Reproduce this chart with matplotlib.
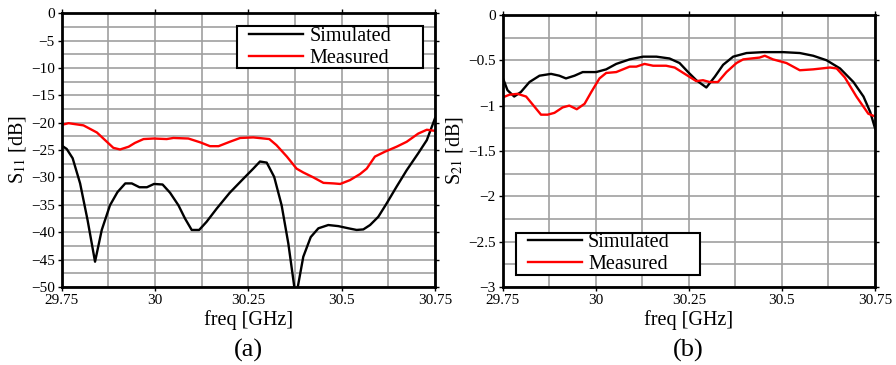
import matplotlib
matplotlib.use("Agg")
import matplotlib.pyplot as plt
from matplotlib.patches import Rectangle
from matplotlib.ticker import MultipleLocator, FuncFormatter

plt.rcParams['font.family'] = ['Liberation Serif', 'DejaVu Serif']
plt.rcParams['mathtext.fontset'] = 'stix'

# S11 (a)
s11_sim_f = [29.75, 29.763, 29.779, 29.799, 29.819, 29.839, 29.857, 29.879, 29.899, 29.92,
             29.9375, 29.958, 29.978, 29.997, 30.02, 30.04, 30.0625, 30.08, 30.098, 30.118,
             30.138, 30.165, 30.2, 30.237, 30.263, 30.281, 30.299, 30.319, 30.339, 30.357,
             30.377, 30.397, 30.417, 30.4375, 30.464, 30.491, 30.518, 30.54, 30.558, 30.576,
             30.598, 30.62, 30.647, 30.674, 30.705, 30.728, 30.75]
s11_sim = [-24.2, -24.8, -26.5, -31.1, -37.8, -45.4, -39.6, -35.1, -32.7, -31.1,
           -31.1, -31.8, -31.8, -31.2, -31.3, -32.8, -35.1, -37.5, -39.6, -39.6,
           -38.1, -35.7, -32.8, -30.2, -28.4, -27.1, -27.3, -29.9, -35.1, -42.1,
           -52.0, -44.5, -40.9, -39.3, -38.7, -38.9, -39.3, -39.6, -39.5, -38.7,
           -37.2, -34.8, -31.7, -28.7, -25.6, -23.2, -19.2]
s11_meas_f = [29.75, 29.768, 29.808, 29.844, 29.866, 29.888, 29.906, 29.929, 29.946, 29.969,
              29.996, 30.031, 30.049, 30.089, 30.121, 30.147, 30.17, 30.2, 30.228, 30.263,
              30.306, 30.325, 30.353, 30.379, 30.397, 30.424, 30.451, 30.478, 30.496, 30.522,
              30.549, 30.567, 30.589, 30.616, 30.647, 30.674, 30.705, 30.728, 30.75]
s11_meas = [-20.4, -20.1, -20.5, -21.8, -23.2, -24.6, -24.9, -24.4, -23.7, -23.0,
            -22.9, -23.0, -22.8, -22.9, -23.6, -24.3, -24.3, -23.5, -22.8, -22.7,
            -23.0, -24.1, -26.2, -28.4, -29.1, -30.0, -31.0, -31.1, -31.2, -30.5,
            -29.4, -28.4, -26.2, -25.3, -24.4, -23.5, -22.0, -21.3, -21.5]

# S21 (b)
s21_sim_f = [29.75, 29.763, 29.781, 29.799, 29.822, 29.849, 29.88, 29.902, 29.92, 29.943,
             29.965, 30.001, 30.028, 30.055, 30.091, 30.127, 30.163, 30.198, 30.225, 30.248,
             30.27, 30.297, 30.32, 30.342, 30.369, 30.405, 30.45, 30.503, 30.548, 30.584,
             30.62, 30.656, 30.692, 30.719, 30.737, 30.75]
s21_sim = [-0.69, -0.83, -0.90, -0.85, -0.74, -0.67, -0.65, -0.67, -0.70, -0.67,
           -0.63, -0.63, -0.60, -0.54, -0.49, -0.46, -0.46, -0.48, -0.53, -0.63,
           -0.72, -0.80, -0.68, -0.55, -0.46, -0.42, -0.41, -0.41, -0.42, -0.45,
           -0.50, -0.59, -0.74, -0.90, -1.07, -1.25]
s21_meas_f = [29.75, 29.768, 29.79, 29.813, 29.831, 29.853, 29.871, 29.889, 29.911, 29.929,
              29.949, 29.97, 29.988, 30.01, 30.028, 30.055, 30.091, 30.109, 30.131, 30.154,
              30.189, 30.212, 30.243, 30.27, 30.288, 30.306, 30.328, 30.351, 30.378, 30.396,
              30.418, 30.44, 30.454, 30.476, 30.512, 30.548, 30.584, 30.629, 30.647, 30.669,
              30.7, 30.732, 30.75]
s21_meas = [-0.91, -0.88, -0.87, -0.90, -0.99, -1.10, -1.10, -1.08, -1.02, -1.00,
            -1.04, -0.98, -0.85, -0.70, -0.64, -0.63, -0.57, -0.57, -0.54, -0.56,
            -0.56, -0.58, -0.66, -0.73, -0.72, -0.74, -0.74, -0.63, -0.53, -0.49,
            -0.48, -0.47, -0.45, -0.49, -0.53, -0.61, -0.60, -0.58, -0.59, -0.69,
            -0.90, -1.09, -1.12]

xticks = [29.75, 30, 30.25, 30.5, 30.75]
xticklabels = ["29.75", "30", "30.25", "30.5", "30.75"]

fig = plt.figure(figsize=(8.96, 3.65), dpi=100)
ax1 = fig.add_axes([0.069, 0.214, 0.4165, 0.750])
ax2 = fig.add_axes([0.561, 0.214, 0.4156, 0.745])


def minus(v, pos):
    return ("%g" % v).replace("-", "\u2212")


def style(ax, ylim, ymaj, ymin):
    ax.set_xlim(29.75, 30.75)
    ax.set_ylim(*ylim)
    ax.set_xticks(xticks)
    ax.set_xticklabels(xticklabels)
    ax.xaxis.set_minor_locator(MultipleLocator(0.125))
    ax.yaxis.set_major_locator(MultipleLocator(ymaj))
    ax.yaxis.set_minor_locator(MultipleLocator(ymin))
    ax.yaxis.set_major_formatter(FuncFormatter(minus))
    ax.grid(True, which='both', color='#a0a0a0', linewidth=1.2)
    ax.set_axisbelow(True)
    for sp in ax.spines.values():
        sp.set_linewidth(2)
    ax.tick_params(which='both', direction='out', top=True, right=True,
                   length=3, width=1, labelsize=11, pad=2)
    ax.tick_params(which='minor', length=0)
    ax.set_xlabel("freq [GHz]", fontsize=14.5, labelpad=2)


def legend(ax, box):
    # box: x0, y0, x1, y1 in axes coords; the frame is drawn by hand
    x0, y0, x1, y1 = box
    ax.add_patch(Rectangle((x0, y0), x1 - x0, y1 - y0, transform=ax.transAxes,
                           facecolor='white', edgecolor='black', lw=1.5, zorder=5))
    ax.legend(loc='center left', bbox_to_anchor=(x0 + 0.032, (y0 + y1) / 2),
              fontsize=14.5, frameon=False, borderpad=0, labelspacing=0.15,
              handlelength=2.7, handletextpad=0.3, borderaxespad=0).set_zorder(6)


ax1.plot(s11_sim_f, s11_sim, color='black', lw=1.7, label='Simulated')
ax1.plot(s11_meas_f, s11_meas, color='red', lw=1.7, label='Measured')
style(ax1, (-50, 0), 5, 2.5)
ax1.set_ylabel(r"S$_{11}$ [dB]", fontsize=14.5, labelpad=2)
legend(ax1, (0.469, 0.799, 0.968, 0.953))

ax2.plot(s21_sim_f, s21_sim, color='black', lw=1.7, label='Simulated')
ax2.plot(s21_meas_f, s21_meas, color='red', lw=1.7, label='Measured')
style(ax2, (-3, 0), 0.5, 0.25)
ax2.set_ylabel(r"S$_{21}$ [dB]", fontsize=14.5, labelpad=2)
legend(ax2, (0.035, 0.044, 0.530, 0.199))

fig.text(0.277, 0.041, "(a)", fontsize=19, ha='center', va='center')
fig.text(0.768, 0.041, "(b)", fontsize=19, ha='center', va='center')

fig.savefig("out.png", dpi=100)
